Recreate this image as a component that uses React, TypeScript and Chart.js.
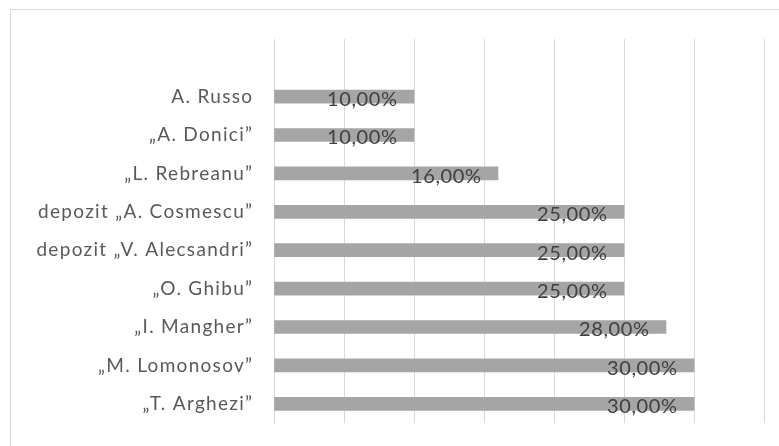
import React, { useEffect, useRef } from "react";
import { Chart, registerables } from "chart.js";

Chart.register(...registerables);

const categories: string[] = [
  "",
  "A. Russo",
  "„A. Donici”",
  "„L. Rebreanu”",
  "depozit „A. Cosmescu”",
  "depozit „V. Alecsandri”",
  "„O. Ghibu”",
  "„I. Mangher”",
  "„M. Lomonosov”",
  "„T. Arghezi”",
];

const values: (number | null)[] = [null, 10, 10, 16, 25, 25, 25, 28, 30, 30];

const xMin = 0;
const xMax = 35;
const xStep = 5;

const fmt = (v: number) => v.toFixed(2).replace(".", ",") + "%";

const spacingPlugin = {
  id: "spacingPlugin",
  beforeDraw(chart: any) {
    (chart.ctx as any).letterSpacing = "1.3px";
  },
  beforeDatasetsDraw(chart: any) {
    (chart.ctx as any).letterSpacing = "0px";
  },
};

const dataLabelPlugin = {
  id: "dataLabelPlugin",
  afterDatasetsDraw(chart: any) {
    const ctx = chart.ctx;
    const meta = chart.getDatasetMeta(0);
    ctx.save();
    ctx.font = "20px Lato";
    (ctx as any).letterSpacing = "0.6px";
    ctx.fillStyle = "#404040";
    ctx.textAlign = "right";
    ctx.textBaseline = "middle";
    meta.data.forEach((el: any, i: number) => {
      const v = values[i];
      if (v == null) return;
      ctx.fillText(fmt(v), el.x - 16.4, el.y + 3);
    });
    ctx.restore();
  },
};

export default function App() {
  const ref = useRef<HTMLCanvasElement | null>(null);
  useEffect(() => {
    if (!ref.current) return;
    const chart = new Chart(ref.current, {
      type: "bar",
      data: {
        labels: categories,
        datasets: [
          {
            data: values as any,
            backgroundColor: "#a5a5a5",
            barThickness: 13,
            borderWidth: 0,
          },
        ],
      },
      options: {
        indexAxis: "y",
        animation: false,
        responsive: false,
        layout: { padding: { left: 0, right: 15, top: 39, bottom: 23 } },
        plugins: {
          legend: { display: false },
          tooltip: { enabled: false },
        },
        scales: {
          x: {
            min: xMin,
            max: xMax,
            ticks: { stepSize: xStep, display: false },
            grid: { color: "#d9d9d9", lineWidth: 1, drawTicks: false },
            border: { display: false },
            afterFit: (s: any) => {
              s.height = 0;
              s.paddingLeft = 0;
              s.paddingRight = 0;
            },
          },
          y: {
            grid: { display: false, drawTicks: false },
            border: { display: true, color: "#d9d9d9", width: 1 },
            ticks: {
              color: "#595959",
              font: { family: "Lato", size: 19 },
              padding: 20.7,
              autoSkip: false,
            },
            afterFit: (s: any) => {
              s.width = 274;
              s.paddingTop = 0;
              s.paddingBottom = 0;
            },
          },
        },
      },
      plugins: [spacingPlugin, dataLabelPlugin],
    });
    return () => chart.destroy();
  }, []);

  return (
    <div
      style={{
        position: "fixed",
        left: 0,
        top: 0,
        width: 779,
        height: 446,
        overflow: "hidden",
        background: "#ffffff",
      }}
    >
      <div
        style={{
          position: "absolute",
          left: 10,
          top: 9,
          width: 800,
          height: 470,
          border: "1px solid #d9d9d9",
          boxSizing: "border-box",
        }}
      />
      <canvas
        ref={ref}
        width={779}
        height={446}
        style={{ position: "absolute", left: 0, top: 0, width: 779, height: 446 }}
      />
    </div>
  );
}
